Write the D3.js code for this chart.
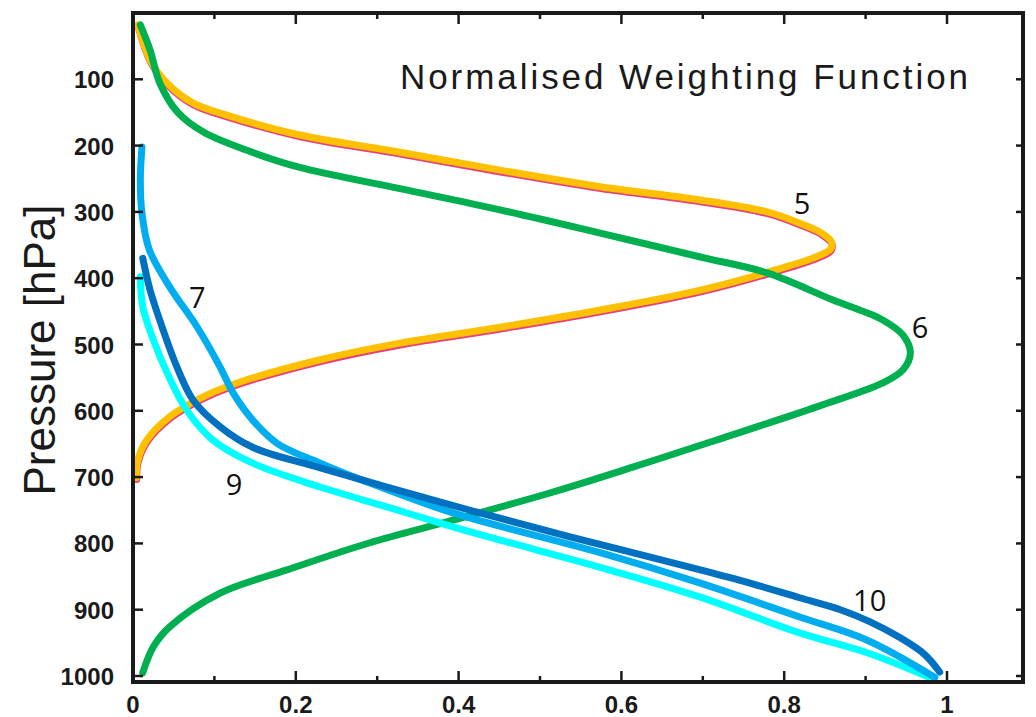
<!DOCTYPE html>
<html>
<head>
<meta charset="utf-8">
<script src="https://cdn.jsdelivr.net/npm/d3@7"></script>
<style>
  html, body { margin: 0; padding: 0; background: #fff; }
  svg { display: block; }
</style>
</head>
<body>
<svg id="chart" width="1036" height="717"></svg>
<script>
// ---- data (x = normalised weight, p = pressure hPa) ----
const xTicks = [0, 0.2, 0.4, 0.6, 0.8, 1];
const xTickLabels = ["0", "0.2", "0.4", "0.6", "0.8", "1"];
const xMinorTicks = [0.1, 0.3, 0.5, 0.7, 0.9];
const yTicks = [100, 200, 300, 400, 500, 600, 700, 800, 900, 1000];
const yTickLabels = ["100", "200", "300", "400", "500", "600", "700", "800", "900", "1000"];

const ch5X = [0.006, 0.021, 0.042, 0.074, 0.123, 0.205, 0.328, 0.451, 0.574, 0.697, 0.779, 0.819, 0.846, 0.858, 0.857, 0.841, 0.807, 0.697, 0.574, 0.451, 0.328, 0.230, 0.128, 0.086, 0.045, 0.017, 0.006, 0.004];
const ch5P = [18, 71, 106, 136, 157, 184, 210, 237, 262, 282, 300, 317, 332, 345, 356, 367, 381, 418, 448, 474, 498, 523, 558, 579, 609, 644, 674, 701];

const ch6X = [0.009, 0.021, 0.033, 0.055, 0.087, 0.144, 0.205, 0.328, 0.451, 0.574, 0.697, 0.779, 0.860, 0.921, 0.946, 0.955, 0.946, 0.921, 0.840, 0.717, 0.614, 0.512, 0.393, 0.291, 0.189, 0.107, 0.045, 0.025, 0.012];
const ch6P = [18, 56, 106, 150, 180, 209, 233, 265, 297, 332, 368, 392, 433, 463, 486, 513, 538, 558, 594, 644, 685, 724, 765, 799, 840, 875, 926, 956, 995];

const ch7X = [0.011, 0.009, 0.011, 0.020, 0.045, 0.079, 0.107, 0.123, 0.147, 0.177, 0.230, 0.291, 0.393, 0.574, 0.697, 0.819, 0.902, 0.985];
const ch7P = [202, 252, 302, 357, 413, 474, 534, 573, 614, 649, 679, 709, 754, 814, 860, 911, 946, 1002];

const ch9X = [0.009, 0.012, 0.025, 0.042, 0.066, 0.098, 0.147, 0.230, 0.312, 0.393, 0.451, 0.574, 0.697, 0.819, 0.902, 0.980];
const ch9P = [398, 443, 493, 543, 599, 644, 679, 715, 745, 775, 795, 836, 881, 935, 965, 1003];

const ch10X = [0.012, 0.021, 0.037, 0.054, 0.074, 0.107, 0.147, 0.230, 0.312, 0.414, 0.537, 0.697, 0.758, 0.819, 0.869, 0.905, 0.942, 0.973, 0.991];
const ch10P = [370, 418, 478, 534, 584, 624, 655, 686, 715, 750, 790, 840, 860, 882, 900, 918, 942, 968, 994];

const channelNames = ["5", "6", "7", "9", "10"];
const labelX = [0.822, 0.967, 0.079, 0.124, 0.905];
const labelP = [286, 473, 428, 709, 885];

// ---- build series table ----
const series = [
  { name: "5",  xs: ch5X,  ps: ch5P,  color: "#ffc000" },
  { name: "6",  xs: ch6X,  ps: ch6P,  color: "#00b050" },
  { name: "9",  xs: ch9X,  ps: ch9P,  color: "#00ffff" },
  { name: "7",  xs: ch7X,  ps: ch7P,  color: "#00aeef" },
  { name: "10", xs: ch10X, ps: ch10P, color: "#0070c0" }
].map(s => ({ ...s, pts: s.xs.map((v, i) => [v, s.ps[i]]) }));

// ---- layout ----
const svg = d3.select("#chart");
const x = d3.scaleLinear().domain([0, 1]).range([133, 947]);
const y = d3.scaleLinear().domain([0, 1000]).range([13, 676]);
const frame = { left: 133, right: 1023, top: 13, bottom: 682 };

const line = d3.line()
  .x(d => x(d[0]))
  .y(d => y(d[1]))
  .curve(d3.curveCatmullRom.alpha(0.5));

// pink edge under channel 5
svg.append("path")
  .attr("d", line(series[0].pts))
  .attr("transform", "translate(0.4,1.8)")
  .attr("fill", "none")
  .attr("stroke", "#e8407a")
  .attr("stroke-width", 7)
  .attr("stroke-linecap", "round");

series.forEach(s => {
  svg.append("path")
    .attr("d", line(s.pts))
    .attr("fill", "none")
    .attr("stroke", s.color)
    .attr("stroke-width", 7)
    .attr("stroke-linecap", "round")
    .attr("stroke-linejoin", "round");
});

// ---- frame ----
svg.append("rect")
  .attr("x", frame.left).attr("y", frame.top)
  .attr("width", frame.right - frame.left)
  .attr("height", frame.bottom - frame.top)
  .attr("fill", "none")
  .attr("stroke", "#1a1a1a")
  .attr("stroke-width", 4);

// ---- ticks (inward) ----
const tickG = svg.append("g").attr("stroke", "#1a1a1a").attr("stroke-width", 2.5);
xTicks.forEach(t => {
  tickG.append("line").attr("x1", x(t)).attr("x2", x(t)).attr("y1", frame.bottom).attr("y2", frame.bottom - 11);
  tickG.append("line").attr("x1", x(t)).attr("x2", x(t)).attr("y1", frame.top).attr("y2", frame.top + 11);
});
xMinorTicks.forEach(t => {
  tickG.append("line").attr("x1", x(t)).attr("x2", x(t)).attr("y1", frame.bottom).attr("y2", frame.bottom - 6);
  tickG.append("line").attr("x1", x(t)).attr("x2", x(t)).attr("y1", frame.top).attr("y2", frame.top + 6);
});
yTicks.forEach(t => {
  tickG.append("line").attr("x1", frame.left).attr("x2", frame.left + 10).attr("y1", y(t)).attr("y2", y(t));
  tickG.append("line").attr("x1", frame.right).attr("x2", frame.right - 7).attr("y1", y(t)).attr("y2", y(t));
});

// ---- tick labels ----
const lab = svg.append("g")
  .attr("font-family", "'Liberation Sans', Arial, Helvetica, sans-serif")
  .attr("font-weight", "bold")
  .attr("font-size", 24)
  .attr("fill", "#1a1a1a");
xTicks.forEach((t, i) => {
  lab.append("text").attr("x", x(t)).attr("y", 713).attr("text-anchor", "middle").text(xTickLabels[i]);
});
yTicks.forEach((t, i) => {
  lab.append("text").attr("x", 114).attr("y", y(t) + 9).attr("text-anchor", "end").text(yTickLabels[i]);
});

// ---- axis title ----
svg.append("text")
  .attr("transform", "translate(55,350) rotate(-90)")
  .attr("text-anchor", "middle")
  .attr("font-family", "'Liberation Sans', Arial, Helvetica, sans-serif")
  .attr("font-size", 44)
  .attr("fill", "#1a1a1a")
  .text("Pressure [hPa]");

// ---- chart title ----
svg.append("text")
  .attr("x", 400).attr("y", 89)
  .attr("font-family", "'Liberation Sans', Arial, Helvetica, sans-serif")
  .attr("font-size", 35)
  .attr("fill", "#1a1a1a")
  .attr("textLength", 568)
  .attr("lengthAdjust", "spacing")
  .text("Normalised Weighting Function");

// ---- channel labels ----
channelNames.forEach((n, i) => {
  svg.append("text")
    .attr("x", x(labelX[i])).attr("y", y(labelP[i]))
    .attr("text-anchor", "middle")
    .attr("dominant-baseline", "central")
    .attr("font-family", "'Open Sans', 'Noto Sans', sans-serif")
    .attr("font-size", 29)
    .attr("fill", "#111")
    .text(n);
});
</script>
</body>
</html>
